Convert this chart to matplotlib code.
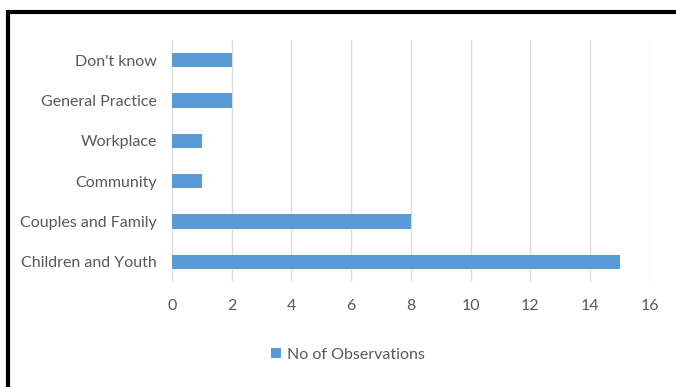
import matplotlib
matplotlib.use("Agg")
import matplotlib.pyplot as plt
from matplotlib.lines import Line2D
from matplotlib.patches import Patch

categories = ["Children and Youth", "Couples and Family", "Community",
              "Workplace", "General Practice", "Don't know"]
observations = [15, 8, 1, 1, 2, 2]
x_ticks = [0, 2, 4, 6, 8, 10, 12, 14, 16]

plt.rcParams['font.family'] = ['Lato', 'DejaVu Sans']

bar_color = '#5B9BD5'
text_color = '#595959'

fig = plt.figure(figsize=(6.76, 3.87), dpi=100)
ax = fig.add_axes([0.2544, 0.2713, 0.9615 - 0.2544, 0.8966 - 0.2713])

ax.barh(range(len(categories)), observations, height=0.36, color=bar_color, zorder=3)

ax.set_xlim(0, 16)
ax.set_ylim(-0.5, len(categories) - 0.5)
ax.set_xticks(x_ticks)
ax.set_yticks(range(len(categories)))
ax.set_yticklabels(categories)
ax.tick_params(axis='both', length=0, labelsize=11.5, colors=text_color)
ax.tick_params(axis='y', pad=11)
ax.tick_params(axis='x', pad=12)
ax.grid(axis='x', color='#DDDDDD', linewidth=1.0, zorder=0)
for s in ax.spines.values():
    s.set_visible(False)

handle = Patch(facecolor=bar_color, edgecolor='none')
fig.legend([handle], ['No of Observations'], loc='center',
           bbox_to_anchor=(0.515, 1 - 355 / 387), frameon=False,
           fontsize=11.5, labelcolor=text_color, handlelength=0.6,
           handleheight=0.6, handletextpad=0.4)

# black frame on top and left edge
fig.add_artist(Line2D([6 / 676, 1], [1 - 12 / 387, 1 - 12 / 387],
                      transform=fig.transFigure, color='black', linewidth=3,
                      solid_capstyle='butt'))
fig.add_artist(Line2D([8 / 676, 8 / 676], [0, 1 - 10 / 387],
                      transform=fig.transFigure, color='black', linewidth=3,
                      solid_capstyle='butt'))

fig.savefig('out.png', dpi=100)
